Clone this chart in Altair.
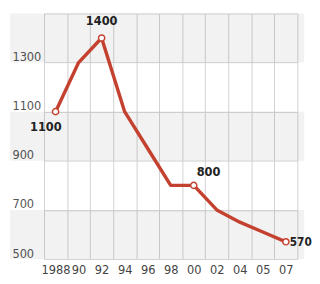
import altair as alt
import pandas as pd

years = ["1988", "90", "92", "94", "96", "98", "00", "02", "04", "05", "07"]
values = [1100, 1300, 1400, 1100, 950, 800, 800, 700, 650, 610, 570]
marked_years = ["1988", "92", "00", "07"]
marked_labels = ["1100", "1400", "800", "570"]
band_lo = [500, 900, 1300]
band_hi = [700, 1100, 1500]
y_ticks = [500, 700, 900, 1100, 1300, 1500]

df = pd.DataFrame({"year": years, "value": values})
pts = pd.DataFrame({
    "year": marked_years,
    "value": [values[years.index(y)] for y in marked_years],
    "label": marked_labels,
})
bands = pd.DataFrame({"lo": band_lo, "hi": band_hi})

RED = "#c4412f"
FONT = "'DejaVu Sans Condensed', 'Liberation Sans Narrow', Roboto, sans-serif"
GRID = "#d2d2d2"

xscale = alt.Scale(type="band", domain=years, range=[35, 295], paddingInner=0, paddingOuter=0)
yscale = alt.Scale(domain=[500, 1500], nice=False, zero=False)

x_axis = alt.Axis(title=None, labelAngle=0, tickBand="extent", domain=False, ticks=False,
                  grid=True, gridColor=GRID, labelFont=FONT, labelFontSize=13,
                  labelColor="#444", labelPadding=5)
y_axis = alt.Axis(title=None, values=y_ticks, format="d", grid=True, gridColor=GRID, domain=False,
                  ticks=False, tickSize=0, labelAlign="left", labelBaseline="alphabetic",
                  labelPadding=-2, labelOffset=-2, labelFont=FONT, labelFontSize=13,
                  labelColor="#555", labelExpr="datum.value == 1500 ? '' : datum.label")

band_layer = alt.Chart(bands).mark_rect(color="#000", opacity=0.05).encode(
    y=alt.Y("lo:Q", scale=yscale, axis=y_axis),
    y2="hi:Q",
)

line = alt.Chart(df).mark_line(color=RED, strokeWidth=3.5, strokeJoin="round").encode(
    x=alt.X("year:N", scale=xscale, sort=years, axis=x_axis),
    y=alt.Y("value:Q", scale=yscale, axis=y_axis),
)

points = alt.Chart(pts).mark_point(shape="circle", filled=True, fill="white", stroke=RED,
                                   strokeWidth=1.5, size=40, opacity=1).encode(
    x=alt.X("year:N", scale=xscale, sort=years),
    y=alt.Y("value:Q", scale=yscale),
)

def label_layer(year, dx, dy, align, size=13):
    return alt.Chart(pts).transform_filter(alt.datum.year == year).mark_text(
        font=FONT, fontSize=size, fontWeight="bold", color="#222",
        dx=dx, dy=dy, align=align, baseline="middle",
    ).encode(
        x=alt.X("year:N", scale=xscale, sort=years),
        y=alt.Y("value:Q", scale=yscale),
        text="label:N",
    )

texts = [
    label_layer("1988", -10, 16, "center"),
    label_layer("92", 0, -17, "center"),
    label_layer("00", 3, -14, "left"),
    label_layer("07", 4, 0, "left", 12),
]

chart = alt.layer(band_layer, line, points, *texts).properties(
    width=302, height=252,
    autosize=alt.AutoSizeParams(type="none"),
    padding={"left": 2, "top": 2, "right": 8, "bottom": 20},
).configure_view(stroke=None)

chart.save("out.html", embed_options={"renderer": "svg", "actions": False})
